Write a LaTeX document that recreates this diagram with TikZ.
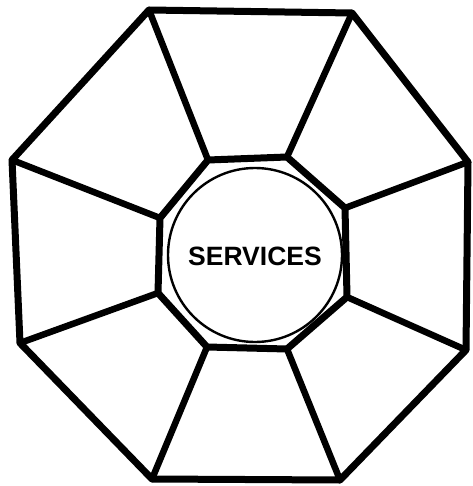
\documentclass[tikz,border=0pt]{standalone}
\usepackage{fontspec}
\setmainfont{Liberation Sans}
\begin{document}
\begin{tikzpicture}[x=1pt,y=-1pt,
  outerline/.style={line width=7pt,line join=round,line cap=round},
  spoke/.style={line width=6.5pt,line cap=round},
  ring/.style={line width=2.4pt},
  label/.style={font=\bfseries\fontsize{26.5}{26.5}\selectfont}]
\useasboundingbox (0,0) rectangle (472,486);
% outer vertices
\coordinate (o1) at (149,10);
\coordinate (o2) at (352,13);
\coordinate (o3) at (468,162);
\coordinate (o4) at (466,350);
\coordinate (o5) at (340,480);
\coordinate (o6) at (152,479);
\coordinate (o7) at (20,343);
\coordinate (o8) at (12,160);
% inner vertices
\coordinate (i1) at (208,160);
\coordinate (i2) at (287,157);
\coordinate (i3) at (345,208);
\coordinate (i4) at (347,297);
\coordinate (i5) at (287,349);
\coordinate (i6) at (207,347);
\coordinate (i7) at (158,293);
\coordinate (i8) at (160,218);
\draw[outerline] (o1)--(o2)--(o3)--(o4)--(o5)--(o6)--(o7)--(o8)--cycle;
\draw[outerline] (i1)--(i2)--(i3)--(i4)--(i5)--(i6)--(i7)--(i8)--cycle;
\foreach \k in {1,...,8}{\draw[spoke] (i\k)--(o\k);}
\draw[ring] (255,255) circle (87);
\node[label] (svc) at (255,256) {SERVICES};
\end{tikzpicture}
\end{document}
